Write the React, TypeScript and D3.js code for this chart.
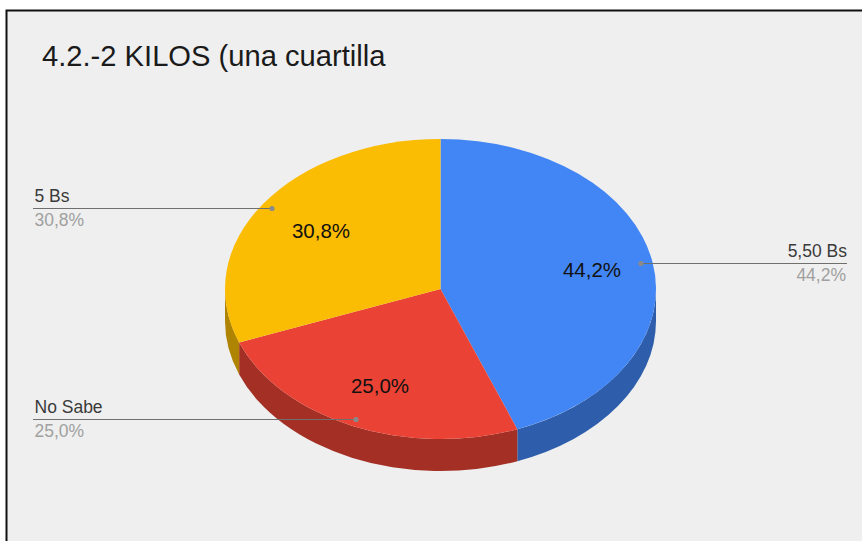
import React from "react";
import * as d3 from "d3";

const categories = ["5,50 Bs", "No Sabe", "5 Bs"];
const values = [44.2, 25.0, 30.8];
const valueLabels = ["44,2%", "25,0%", "30,8%"];
const topColors = ["#4285f4", "#ea4335", "#fbbc04"];
const sideColors = ["#2e5eab", "#a32f25", "#b08403"];
const titleText = "4.2.-2 KILOS (una cuartilla";

const W = 862, H = 541;
const cx = 440.5, cy = 289, rx = 215.5, ry = 150, depth = 32;

const pieGen = d3.pie<number>().sort(null).value((d) => d);
const arcs = pieGen(values);
const squash = ry / rx;
const topArc = d3.arc<d3.PieArcDatum<number>>().innerRadius(0).outerRadius(rx);

const px = (a: number) => cx + rx * Math.sin(a);
const py = (a: number) => cy - ry * Math.cos(a);

function sidePath(a0: number, a1: number): string | null {
  const s = Math.max(a0, Math.PI / 2);
  const e = Math.min(a1, (3 * Math.PI) / 2);
  if (e <= s) return null;
  const large = e - s > Math.PI ? 1 : 0;
  return [
    `M${px(s)},${py(s)}`,
    `A${rx},${ry} 0 ${large} 1 ${px(e)},${py(e)}`,
    `L${px(e)},${py(e) + depth}`,
    `A${rx},${ry} 0 ${large} 0 ${px(s)},${py(s) + depth}`,
    "Z",
  ].join("");
}

const inLabelPos = [
  [592, 270],
  [380, 386],
  [321, 231],
];
const callouts = [
  { dot: [641, 263], end: 847, anchor: "end", tx: 847, ty: 846 },
  { dot: [356, 419], end: 33, anchor: "start", tx: 34.5, ty: 34.5 },
  { dot: [272, 208], end: 33, anchor: "start", tx: 34.5, ty: 34.5 },
];

const font = "'Liberation Sans', Arial, sans-serif";

export default function App() {
  return (
    <svg
      width={W}
      height={H}
      viewBox={`0 0 ${W} ${H}`}
      style={{ position: "fixed", left: 0, top: 0, display: "block" }}
    >
      <rect x={0} y={0} width={W} height={H} fill="#ffffff" />
      <rect x={6.5} y={10.5} width={W + 20} height={H + 20} fill="#efefef" stroke="#111111" strokeWidth={2} />
      <text x={42} y={66} fontFamily={font} fontSize={29.15} fill="#1a1a1a">
        {titleText}
      </text>

      {arcs.map((a, i) => {
        const d = sidePath(a.startAngle, a.endAngle);
        return d ? <path key={i} d={d} fill={sideColors[i]} /> : null;
      })}
      {arcs.map((a, i) => (
        <path
          key={i}
          d={topArc(a) as string}
          transform={`translate(${cx},${cy}) scale(1,${squash})`}
          fill={topColors[i]}
        />
      ))}

      {arcs.map((_, i) => (
        <text
          key={i}
          x={inLabelPos[i][0]}
          y={inLabelPos[i][1]}
          dy="0.35em"
          textAnchor="middle"
          fontFamily={font}
          fontSize={20.5}
          fill="#111111"
        >
          {valueLabels[i]}
        </text>
      ))}

      {callouts.map((c, i) => (
        <g key={i}>
          <line x1={c.dot[0]} y1={c.dot[1] + 0.5} x2={c.end} y2={c.dot[1] + 0.5} stroke="#6f6f6f" strokeWidth={1} />
          <circle cx={c.dot[0]} cy={c.dot[1] + 0.5} r={2.6} fill="#8a8a8a" />
          <text x={c.tx} y={c.dot[1] - 6} textAnchor={c.anchor as any} fontFamily={font} fontSize={17.5} fill="#3a3a3a">
            {categories[i]}
          </text>
          <text x={c.ty} y={c.dot[1] + 18} textAnchor={c.anchor as any} fontFamily={font} fontSize={17.5} fill="#a0a0a0">
            {valueLabels[i]}
          </text>
        </g>
      ))}
    </svg>
  );
}
